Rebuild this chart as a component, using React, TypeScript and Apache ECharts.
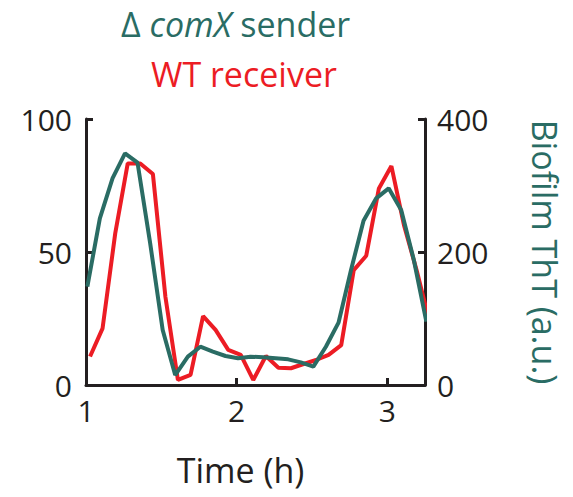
import React, { useEffect, useRef } from "react";
import * as echarts from "echarts";

const TEAL = "#2a6c64";
const RED = "#ec1c24";
const INK = "#231f20";
const FONT = "'Open Sans', 'Noto Sans', sans-serif";

// Time (h)
const receiverTime = [
  1.027, 1.11, 1.194, 1.277, 1.36, 1.444, 1.527, 1.61, 1.694, 1.777, 1.86, 1.944, 2.027, 2.11,
  2.194, 2.277, 2.36, 2.444, 2.527, 2.61, 2.694, 2.777, 2.86, 2.944, 3.027, 3.11, 3.194, 3.277,
];
// WT receiver (left axis, 0-100)
const receiverValues = [
  10.7, 21.3, 57.0, 83.3, 83.3, 79.3, 33.2, 1.9, 3.8, 25.9, 20.7, 13.2, 11.3, 1.9,
  10.9, 6.5, 6.3, 7.9, 9.4, 11.3, 15.0, 43.2, 48.6, 73.9, 82.3, 60.2, 43.2, 24.4,
];
const senderTime = [
  1.009, 1.092, 1.176, 1.259, 1.342, 1.426, 1.509, 1.592, 1.676, 1.759, 1.842, 1.926, 2.009, 2.092,
  2.176, 2.259, 2.342, 2.426, 2.509, 2.592, 2.676, 2.759, 2.842, 2.926, 3.009, 3.092, 3.176, 3.259,
];
// Δ comX sender, Biofilm ThT (right axis, 0-400)
const senderValues = [
  147.9, 250.6, 310.8, 348.4, 334.3, 213.0, 82.7, 15.0, 42.6, 57.6, 50.1, 43.6, 40.1, 42.6,
  41.6, 40.1, 38.6, 34.1, 27.6, 57.6, 93.7, 172.9, 247.1, 280.7, 295.7, 263.2, 188.0, 95.2,
];

const xTicks = { min: 1, max: 3.25, interval: 1 };
const leftTicks = { min: 0, max: 100, interval: 50 };
const rightTicks = { min: 0, max: 400, interval: 200 };

export default function App() {
  const ref = useRef<HTMLDivElement>(null);
  useEffect(() => {
    if (!ref.current) return;
    const chart = echarts.init(ref.current, null, { renderer: "svg" });
    const axisLine = { show: true, lineStyle: { color: INK, width: 3 } };
    const axisTick = { show: true, inside: true, length: 7, lineStyle: { color: INK, width: 3 } };
    const label = { color: INK, fontSize: 30, fontFamily: FONT };
    chart.setOption({
      animation: false,
      backgroundColor: "#ffffff",
      title: [
        {
          text: "{a|Δ }{b|comX}{a| sender}",
          left: 116,
          top: 2,
          textStyle: {
            fontWeight: "normal",
            rich: {
              a: { color: TEAL, fontSize: 34, fontFamily: FONT, fontWeight: "normal" },
              b: {
                color: TEAL,
                fontSize: 34,
                fontFamily: FONT,
                fontWeight: "normal",
                fontStyle: "italic",
              },
            },
          },
        },
        {
          text: "WT receiver",
          left: 146,
          top: 52,
          textStyle: { color: RED, fontSize: 34, fontFamily: FONT, fontWeight: "normal" },
        },
      ],
      grid: { left: 86, right: 148, top: 119, bottom: 112, containLabel: false },
      xAxis: {
        type: "value",
        ...xTicks,
        name: "Time (h)",
        nameLocation: "middle",
        nameGap: 68,
        nameTextStyle: { color: INK, fontSize: 34, fontFamily: FONT, padding: [0, 30, 0, 0] },
        axisLine,
        axisTick,
        axisLabel: { ...label, margin: 10, showMaxLabel: false },
        splitLine: { show: false },
      },
      yAxis: [
        {
          type: "value",
          ...leftTicks,
          position: "left",
          axisLine,
          axisTick,
          axisLabel: { ...label, margin: 14 },
          splitLine: { show: false },
        },
        {
          type: "value",
          ...rightTicks,
          position: "right",
          name: "Biofilm ThT (a.u.)",
          nameLocation: "middle",
          nameRotate: -90,
          nameGap: 103,
          nameTextStyle: { color: TEAL, fontSize: 34, fontFamily: FONT },
          axisLine,
          axisTick,
          axisLabel: { ...label, margin: 12 },
          splitLine: { show: false },
        },
      ],
      series: [
        {
          name: "WT receiver",
          type: "line",
          yAxisIndex: 0,
          data: receiverTime.map((t, i) => [t, receiverValues[i]]),
          showSymbol: false,
          clip: false,
          lineStyle: { color: RED, width: 4 },
          itemStyle: { color: RED },
        },
        {
          name: "Δ comX sender",
          type: "line",
          yAxisIndex: 1,
          data: senderTime.map((t, i) => [t, senderValues[i]]),
          showSymbol: false,
          clip: false,
          lineStyle: { color: TEAL, width: 4 },
          itemStyle: { color: TEAL },
        },
      ],
    });
    return () => chart.dispose();
  }, []);
  return <div ref={ref} style={{ width: 573, height: 497, margin: -8 }} />;
}
